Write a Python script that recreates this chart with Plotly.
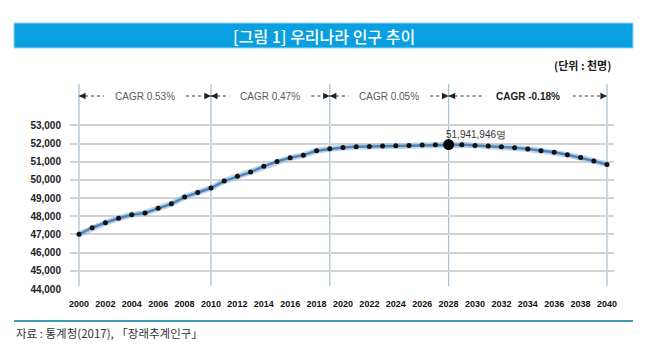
import plotly.graph_objects as go

years = list(range(2000, 2041))
population = [47008, 47370, 47645, 47892, 48083, 48185, 48438, 48684, 49055, 49308,
              49554, 49937, 50200, 50429, 50747, 51015, 51218, 51362, 51607, 51709,
              51781, 51822, 51835, 51860, 51880, 51900, 51915, 51930, 51942, 51930,
              51900, 51870, 51830, 51770, 51700, 51610, 51520, 51380, 51230, 51040, 50850]
peak_year = 2028
peak_label = "51,941,946명"
period_bounds = [2000, 2010, 2019, 2028, 2040]
cagr_labels = ["CAGR 0.53%", "CAGR 0.47%", "CAGR 0.05%", "CAGR -0.18%"]
y_ticks = list(range(44000, 54000, 1000))
x_ticks = list(range(2000, 2041, 2))

title_text = "[그림 1] 우리나라 인구 추이"
unit_text = "(단위 : 천명)"
source_text = "자료 : 통계청(2017), 「장래추계인구」"

W, H = 647, 359
L, R, T, B = 70, 33, 88, 70
PW, PH = W - L - R, H - T - B
XR = [1999.32, 2040.53]
YR = [44000, 44000 + 1000 * (H - B - T) / 18.18]

def px(x):
    return (x - L) / PW

def py(y):
    return (H - B - y) / PH

def yr_per_px():
    return (XR[1] - XR[0]) / PW

KR = "Noto Sans CJK KR"
NUM = "Liberation Sans, Arial, sans-serif"

fig = go.Figure()
fig.add_trace(go.Scatter(x=years, y=population, mode="lines",
                         line=dict(color="rgba(160,195,228,0.7)", width=6),
                         hoverinfo="skip", showlegend=False))
fig.add_trace(go.Scatter(x=years, y=population, mode="lines+markers",
                         line=dict(color="#5283b5", width=2.5),
                         marker=dict(color="#111111", size=5),
                         showlegend=False))
pi = years.index(peak_year)
fig.add_trace(go.Scatter(x=[years[pi]], y=[population[pi]], mode="markers",
                         marker=dict(color="#000000", size=11), showlegend=False))

shapes = []
for b in period_bounds:
    shapes.append(dict(type="line", xref="x", yref="paper", x0=b, x1=b, y0=0.015, y1=1.02,
                       line=dict(color="#a9c3d4", width=1.3), layer="below"))
shapes.append(dict(type="rect", xref="paper", yref="paper", x0=px(14), x1=px(633),
                   y0=py(48), y1=py(23), fillcolor="#0a9fe0", line=dict(color="#8fd8f5", width=1)))
shapes.append(dict(type="line", xref="paper", yref="paper", x0=px(14), x1=px(633),
                   y0=py(321), y1=py(321), line=dict(color="#3d9cba", width=2)))

annotations = [
    dict(text=title_text, xref="paper", yref="paper", x=px(324), y=py(36), showarrow=False,
         font=dict(family=KR, size=16, color="white", weight=500),
         xanchor="center", yanchor="middle"),
    dict(text="<b>" + unit_text + "</b>", xref="paper", yref="paper", x=px(613), y=py(65),
         showarrow=False, font=dict(family=KR, size=11, color="#222"),
         xanchor="right", yanchor="middle"),
    dict(text=source_text, xref="paper", yref="paper", x=px(14), y=py(333), showarrow=False,
         font=dict(family=KR, size=11.5, color="#333"), xanchor="left", yanchor="middle"),
    dict(text=peak_label, xref="x", yref="paper", x=peak_year, y=py(134), xshift=-5,
         showarrow=False, font=dict(family=NUM, size=10, color="#333"),
         xanchor="left", yanchor="middle"),
]

arrow_y = py(96)
upp = yr_per_px()
for i, lab in enumerate(cagr_labels):
    a, b = period_bounds[i], period_bounds[i + 1]
    c = (a + b) / 2
    last = i == len(cagr_labels) - 1
    col = "#222222" if last else "#5a5a5a"
    txt = "<b>" + lab + "</b>" if last else lab
    half = (36 if last else 32) * upp
    gap = 9 * upp
    annotations.append(dict(text=txt, xref="x", yref="paper", x=c, y=arrow_y, showarrow=False,
                            font=dict(family=NUM, size=10, color=col),
                            xanchor="center", yanchor="middle"))
    for x0, x1 in [(a, c - half - gap), (c + half + gap, b)]:
        shapes.append(dict(type="line", xref="x", yref="paper", x0=x0, x1=x1,
                           y0=arrow_y, y1=arrow_y, line=dict(color="#333", width=1, dash="dot")))
    for tip, tail in [(a, a + 7 * upp), (b, b - 7 * upp)]:
        annotations.append(dict(x=tip, y=arrow_y, xref="x", yref="paper", ax=tail, ay=0,
                                axref="x", ayref="pixel", text="", showarrow=True,
                                arrowhead=2, arrowsize=1.1, arrowwidth=1.2,
                                arrowcolor="#222", standoff=0))

fig.update_layout(
    width=W, height=H, margin=dict(l=L, r=R, t=T, b=B),
    paper_bgcolor="white", plot_bgcolor="white",
    shapes=shapes, annotations=annotations, showlegend=False,
    xaxis=dict(range=XR, tickvals=x_ticks, ticktext=[str(v) for v in x_ticks],
               showgrid=False, zeroline=False, showline=False, ticks="",
               tickfont=dict(family=NUM, size=9, color="#111", weight="bold"),
               ticklabelstandoff=8),
    yaxis=dict(range=YR, tickvals=y_ticks, ticktext=[f"{v:,}" for v in y_ticks],
               showgrid=True, gridcolor="#d2d2d2", gridwidth=1.5, zeroline=False,
               showline=False, ticks="",
               tickfont=dict(family=NUM, size=10, color="#222", weight="bold"),
               ticklabelstandoff=8),
)

fig.write_html("out.html", config={"displayModeBar": False},
               post_script="document.body.style.margin='0';document.body.style.overflow='hidden';")
